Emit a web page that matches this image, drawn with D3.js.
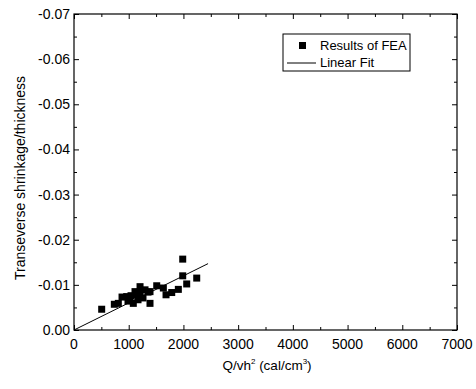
<!DOCTYPE html>
<html>
<head>
<meta charset="utf-8">
<style>
  body { margin: 0; background: #fff; }
  text { font-family: "Liberation Sans", Arial, sans-serif; fill: #000; }
</style>
</head>
<body>
<svg id="chart" width="476" height="389"></svg>
<script src="https://d3js.org/d3.v7.min.js"></script>
<script>
// FEA results: Q/vh^2 (cal/cm^3) vs transverse shrinkage/thickness
const feaX = [506, 737, 810, 878, 963, 987, 1024, 1042, 1084, 1115, 1152, 1170, 1207, 1207,
              1261, 1298, 1353, 1389, 1389, 1512, 1633, 1682, 1786, 1907, 1987, 1987, 2060, 2243];
const feaY = [-0.0046, -0.0057, -0.0059, -0.0073, -0.0074, -0.0064, -0.0067, -0.0076, -0.0059, -0.0085,
              -0.0078, -0.0067, -0.0096, -0.0084, -0.0071, -0.0089, -0.0084, -0.0059, -0.0085, -0.0098,
              -0.0093, -0.0078, -0.0083, -0.0090, -0.0157, -0.0120, -0.0102, -0.0115];
// linear fit end points
const fitX = [0, 2450];
const fitY = [0, -0.0147];

const xTicks = [0, 1000, 2000, 3000, 4000, 5000, 6000, 7000];
const yTicks = [0, -0.01, -0.02, -0.03, -0.04, -0.05, -0.06, -0.07];

const svg = d3.select("#chart");
const mLeft = 74, mRight = 457, mTop = 14, mBottom = 330;

let x = d3.scaleLinear().domain([0, 7000]).range([mLeft, mRight]);
let y = d3.scaleLinear().domain([0, -0.07]).range([mBottom, mTop]);

const xMinor = d3.range(500, 7000, 1000);
const yMinor = d3.range(1, 14, 2).map(i => -0.005 * i);

// axes with inward ticks
const g = svg.append("g");
function tickAxis(axis, tr, size) {
  return g.append("g").attr("transform", tr).call(axis.tickSize(size).tickFormat(""))
    .call(s => s.select(".domain").remove())
    .call(s => s.selectAll("line").attr("stroke", "#000").attr("stroke-width", 1));
}
tickAxis(d3.axisBottom(x).tickValues(xTicks), `translate(0,${mBottom})`, -5);
tickAxis(d3.axisBottom(x).tickValues(xMinor), `translate(0,${mBottom})`, -3);
tickAxis(d3.axisTop(x).tickValues(xTicks), `translate(0,${mTop})`, -5);
tickAxis(d3.axisTop(x).tickValues(xMinor), `translate(0,${mTop})`, -3);
tickAxis(d3.axisLeft(y).tickValues(yTicks), `translate(${mLeft},0)`, -5);
tickAxis(d3.axisLeft(y).tickValues(yMinor), `translate(${mLeft},0)`, -3);
tickAxis(d3.axisRight(y).tickValues(yTicks), `translate(${mRight},0)`, -5);
tickAxis(d3.axisRight(y).tickValues(yMinor), `translate(${mRight},0)`, -3);

// frame
g.append("rect").attr("x", mLeft).attr("y", mTop).attr("width", mRight - mLeft).attr("height", mBottom - mTop)
  .attr("fill", "none").attr("stroke", "#000").attr("stroke-width", 1.2);

// tick labels
svg.append("g").selectAll("text").data(xTicks).join("text")
  .attr("x", d => x(d)).attr("y", mBottom + 19)
  .attr("text-anchor", "middle").attr("font-size", 14)
  .text(d => d);
svg.append("g").selectAll("text").data(yTicks).join("text")
  .attr("x", mLeft - 4).attr("y", d => y(d) + 5)
  .attr("text-anchor", "end").attr("font-size", 14)
  .text(d => d3.format(".2f")(d).replace("−", "-"));

// axis titles
const xt = svg.append("text").attr("x", 267).attr("y", 370).attr("text-anchor", "middle").attr("font-size", 13.5);
xt.append("tspan").text("Q/vh");
xt.append("tspan").attr("font-size", 8).attr("dy", -6).text("2");
xt.append("tspan").attr("dy", 6).text(" (cal/cm");
xt.append("tspan").attr("font-size", 8).attr("dy", -6).text("3");
xt.append("tspan").attr("dy", 6).text(")");

svg.append("text").attr("transform", "translate(25,178) rotate(-90)")
  .attr("text-anchor", "middle").attr("font-size", 14)
  .text("Transeverse shrinkage/thickness");

// linear fit
svg.append("line")
  .attr("x1", x(fitX[0])).attr("y1", y(fitY[0]))
  .attr("x2", x(fitX[1])).attr("y2", y(fitY[1]))
  .attr("stroke", "#000").attr("stroke-width", 1);

// points
const pts = feaX.map((v, i) => [v, feaY[i]]);
const s = 7;
svg.append("g").selectAll("rect").data(pts).join("rect")
  .attr("x", d => x(d[0]) - s / 2).attr("y", d => y(d[1]) - s / 2)
  .attr("width", s).attr("height", s).attr("fill", "#000");

// legend
const lg = svg.append("g");
lg.append("rect").attr("x", 283).attr("y", 34).attr("width", 127).attr("height", 37)
  .attr("fill", "#fff").attr("stroke", "#000").attr("stroke-width", 1);
lg.append("rect").attr("x", 299).attr("y", 42).attr("width", 7).attr("height", 7).attr("fill", "#000");
lg.append("text").attr("x", 320).attr("y", 50).attr("font-size", 13).text("Results of FEA");
lg.append("line").attr("x1", 287).attr("x2", 316).attr("y1", 63).attr("y2", 63).attr("stroke", "#000");
lg.append("text").attr("x", 320).attr("y", 67).attr("font-size", 13).text("Linear Fit");
</script>
</body>
</html>
